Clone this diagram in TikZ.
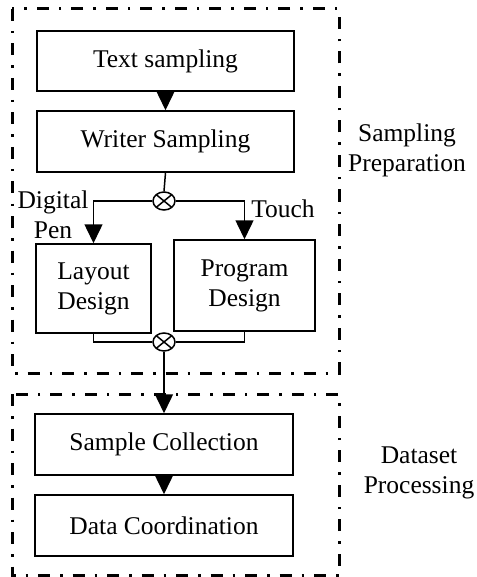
\documentclass[tikz,border=0pt]{standalone}
\usepackage{fontspec}
\setmainfont{Liberation Serif}
\usetikzlibrary{arrows.meta}
\usetikzlibrary{shapes.geometric}

\tikzset{
  box/.style={draw, line width=1.5pt, inner sep=0pt, align=center,
    font=\fontsize{25.5}{30}\selectfont},
  lbl/.style={inner sep=0pt, align=center, font=\fontsize{25.5}{30}\selectfont},
  mix/.style={ellipse, draw, line width=1.5pt, minimum width=22pt,
    minimum height=18pt, inner sep=0pt,
    path picture={\draw[line width=1.5pt]
      (path picture bounding box.north west) -- (path picture bounding box.south east)
      (path picture bounding box.north east) -- (path picture bounding box.south west);}},
  stage/.style={line width=3pt, dash pattern=on 12pt off 10pt on 2.5pt off 10pt},
  arr/.style={line width=1.5pt, -{Triangle[width=18pt,length=19pt]}},
  wire/.style={line width=1.5pt}
}

\begin{document}
\begin{tikzpicture}[x=1pt, y=-1pt]
        \useasboundingbox (0,0) rectangle (476,577);

        \draw[stage] (12,9) rectangle (339,373); \node[lbl] (prep) at (407,150)
        {Sampling\\Preparation};

        \draw[stage] (12,394) rectangle (339,575); \node[lbl] (proc) at (419,473)
        {Dataset\\Processing};

        \node[box, minimum width=257pt, minimum height=60pt] (text) at
        (165.5,61) {Text sampling}; \node[box, minimum width=257pt, minimum
        height=61pt] (writer) at (165.5,141.5) {Writer Sampling};

        \node[mix] (forkA) at (164,201) {};

        \node[box, minimum width=115pt, minimum height=89pt] (layout) at
        (93.5,288.5) {Layout\\Design}; \node[box, minimum width=141pt, minimum
        height=91pt] (program) at (244.5,285.5) {Program\\Design};

        \node[lbl] (pen) at (53,215) {Digital\\Pen}; \node[lbl] (touch) at
        (283,209) {Touch};

        \node[mix] (forkB) at (164,342) {};

        \node[box, minimum width=258pt, minimum height=61pt] (collect) at
        (164,444.5) {Sample Collection}; \node[box, minimum width=258pt,
        minimum height=61pt] (coord) at (164,525.5) {Data Coordination};

        \draw[arr] (text) -- (writer); \draw[wire] (writer.south) --
        (forkA.north); \draw[arr] (forkA.west) -| (layout.north); \draw[arr]
        (forkA.east) -| (program.north); \draw[wire] (layout.south) |-
        (forkB.west); \draw[wire] (program.south) |- (forkB.east); \draw[arr]
        (forkB.south) -- (collect.north); \draw[arr] (collect) -- (coord);
    \end{tikzpicture}
\end{document}
